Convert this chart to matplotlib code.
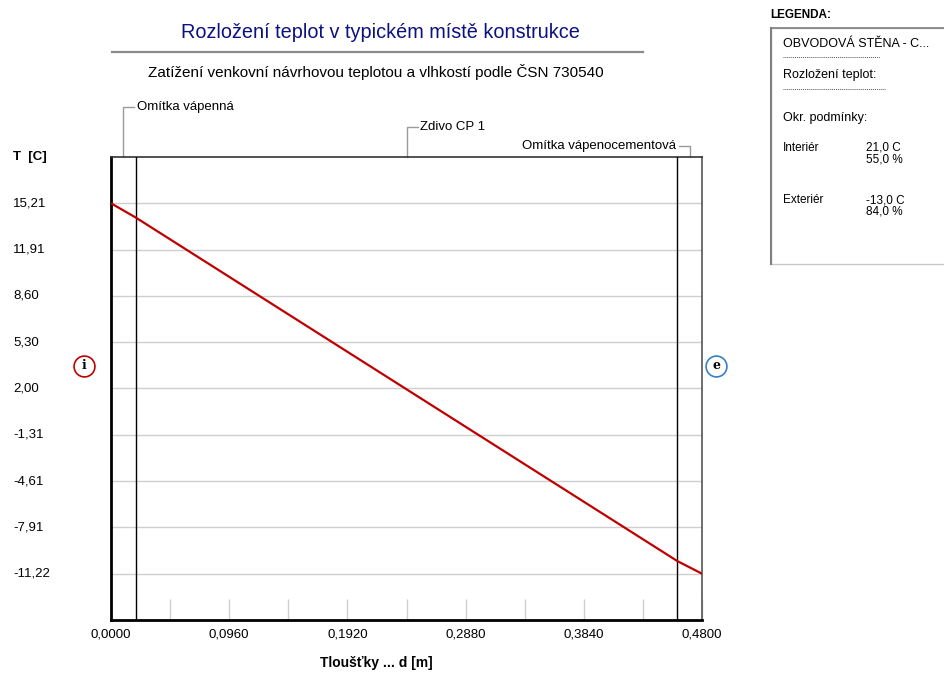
"""Temperature distribution through a wall (Rozložení teplot)."""

import matplotlib
matplotlib.use("Agg")
import matplotlib.pyplot as plt
from matplotlib.lines import Line2D
from matplotlib.patches import Rectangle
from matplotlib.transforms import blended_transform_factory

plt.rcParams["font.family"] = ["Liberation Sans", "DejaVu Sans"]

# ---------------------------------------------------------------------
# data
# ---------------------------------------------------------------------
depth = [0.0, 0.02, 0.46, 0.48]              # m
temperature = [15.21, 14.20, -10.32, -11.22]  # C

layer_bounds = [0.0, 0.02, 0.46, 0.48]
layer_names = ["Omítka vápenná", "Zdivo CP 1", "Omítka vápenocementová"]

y_ticks = [15.21, 11.91, 8.60, 5.30, 2.00, -1.31, -4.61, -7.91, -11.22]
y_labels = ["15,21", "11,91", "8,60", "5,30", "2,00", "-1,31", "-4,61", "-7,91", "-11,22"]
x_ticks = [0.0, 0.096, 0.192, 0.288, 0.384, 0.48]
x_labels = ["0,0000", "0,0960", "0,1920", "0,2880", "0,3840", "0,4800"]
x_minor = [0.048, 0.144, 0.240, 0.336, 0.432]

legend_rows = [
    ("Interiér", "21,0 C", "55,0 %"),
    ("Exteriér", "-13,0 C", "84,0 %"),
]

NAVY = "#0c1080"
RED = "#c00000"
BLUE = "#3a7fc0"
GRID = "#cfcfcf"
FS = 9.5      # tick / annotation text
FS_LEG = 9

W, H = 944, 673


def fx(px):
    return px / W


def fy(py):
    return 1 - py / H


fig = plt.figure(figsize=(9.44, 6.73), dpi=100)
fig.patch.set_facecolor("white")
ax = fig.add_axes([fx(111), fy(620), fx(702) - fx(111), fy(157) - fy(620)])

# temperature profile
ax.plot(depth, temperature, color=RED, lw=1.6, zorder=4, solid_capstyle="butt")

# layer boundaries
for b in layer_bounds[1:-1]:
    ax.axvline(b, color="black", lw=1.0, zorder=3)

ax.set_xlim(layer_bounds[0], layer_bounds[-1])
step = (y_ticks[0] - y_ticks[-1]) / (len(y_ticks) - 1)
ax.set_ylim(y_ticks[-1] - step, y_ticks[0] + step)

# horizontal grid
for t in y_ticks:
    ax.axhline(t, color=GRID, lw=1.0, zorder=1)

ax.set_yticks([])
ylab_tr = blended_transform_factory(fig.transFigure, ax.transData)
for t, lab in zip(y_ticks, y_labels):
    ax.text(fx(13), t, lab, transform=ylab_tr, ha="left", va="center", fontsize=FS)

ax.set_xticks(x_ticks)
ax.set_xticklabels(x_labels, fontsize=FS)
ax.set_xticks(x_minor, minor=True)
ax.tick_params(axis="x", which="both", direction="in", length=15, width=1,
               color=GRID, pad=6)

for side, lw, col in [("left", 2.0, "black"), ("bottom", 2.0, "black"),
                      ("top", 1.2, "#333333"), ("right", 1.2, "#555555")]:
    ax.spines[side].set_linewidth(lw)
    ax.spines[side].set_color(col)

# layer name leaders above the plot
lead_tr = blended_transform_factory(ax.transData, ax.transAxes)
lead_h = [1.108, 1.065, 1.024]
dx = 0.009
for i, (name, h) in enumerate(zip(layer_names, lead_h)):
    mid = (layer_bounds[i] + layer_bounds[i + 1]) / 2
    sign = 1 if i < len(layer_names) - 1 else -1
    ax.plot([mid, mid, mid + sign * dx], [1.0, h, h], color="#9a9a9a", lw=1,
            transform=lead_tr, clip_on=False)
    ax.text(mid + sign * (dx + 0.002), h, name, transform=lead_tr,
            ha="left" if sign > 0 else "right", va="center", fontsize=FS)

# interior / exterior markers
for xa, letter, col in [(-0.0457, "i", RED), (1.0237, "e", BLUE)]:
    ax.plot([xa], [0.5486], marker="o", ms=15, mfc="white", mec=col, mew=1.2,
            transform=ax.transAxes, clip_on=False)
    ax.text(xa, 0.5486, letter, transform=ax.transAxes, ha="center",
            va="center", fontsize=9, fontweight="bold", family="DejaVu Serif")

# axis labels
fig.text(fx(13), fy(157), "T  [C]", ha="left", va="center", fontsize=FS,
         fontweight="bold")
fig.text(fx(376), fy(663), "Tloušťky ... d [m]", ha="center", va="center",
         fontsize=10, fontweight="bold")

# titles
fig.text(fx(380), fy(33), "Rozložení teplot v typickém místě konstrukce",
         ha="center", va="center", fontsize=14.3, color=NAVY)
fig.add_artist(Line2D([fx(112), fx(643)], [fy(52), fy(52)], color="#8a8a8a", lw=1.6))
fig.text(fx(376), fy(72),
         "Zatížení venkovní návrhovou teplotou a vlhkostí podle ČSN 730540",
         ha="center", va="center", fontsize=11)

# legend panel
fig.text(fx(770), fy(15), "LEGENDA:", ha="left", va="center", fontsize=8.5,
         fontweight="bold")
fig.add_artist(Rectangle((fx(771), fy(264)), fx(200), fy(28) - fy(264),
                         facecolor="white", edgecolor="#c8c8c8", lw=1))
fig.add_artist(Line2D([fx(771), fx(771)], [fy(28), fy(264)], color="#808080", lw=1.5))
fig.add_artist(Line2D([fx(771), fx(944)], [fy(28), fy(28)], color="#808080", lw=1.2))

fig.text(fx(783), fy(44), "OBVODOVÁ STĚNA - C...", ha="left", va="center",
         fontsize=FS_LEG)
fig.add_artist(Line2D([fx(783), fx(880)], [fy(57), fy(57)], color="#555555",
                      lw=0.7, ls=(0, (1, 1))))
fig.text(fx(783), fy(75), "Rozložení teplot:", ha="left", va="center",
         fontsize=FS_LEG)
fig.add_artist(Line2D([fx(783), fx(885)], [fy(89), fy(89)], color="#555555",
                      lw=0.7, ls=(0, (1, 1))))
fig.text(fx(783), fy(118), "Okr. podmínky:", ha="left", va="center",
         fontsize=FS_LEG)

for k, (name, temp, hum) in enumerate(legend_rows):
    y0 = 148 + k * 52
    fig.text(fx(783), fy(y0), name, ha="left", va="center", fontsize=FS_LEG - 0.5)
    fig.text(fx(866), fy(y0), temp, ha="left", va="center", fontsize=FS_LEG - 0.5)
    fig.text(fx(866), fy(y0 + 11), hum, ha="left", va="center", fontsize=FS_LEG - 0.5)

fig.savefig("out.png", dpi=100, facecolor="white")
